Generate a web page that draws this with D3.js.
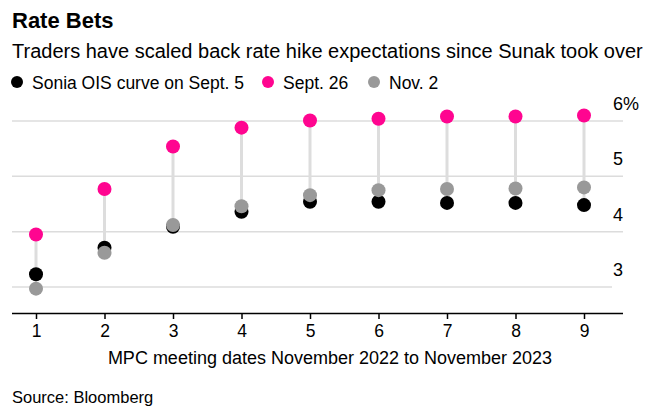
<!DOCTYPE html>
<html>
<head>
<meta charset="utf-8">
<script src="https://cdn.jsdelivr.net/npm/d3@7"></script>
<style>
  body { margin: 0; background: #fff; }
  svg text { font-family: "Liberation Sans", Arial, sans-serif; fill: #000; }
</style>
</head>
<body>
<div id="chart"></div>
<script>
// MPC meetings 1..9
var meetings = [1, 2, 3, 4, 5, 6, 7, 8, 9];
var sept5 = [3.23, 3.71, 4.09, 4.36, 4.54, 4.54, 4.52, 4.52, 4.48];
var sept26 = [3.95, 4.77, 5.54, 5.88, 6.01, 6.04, 6.08, 6.08, 6.10];
var nov2 = [2.97, 3.62, 4.12, 4.46, 4.66, 4.75, 4.77, 4.78, 4.80];
var yTicks = [3, 4, 5, 6];

var series = [
  { name: "Sonia OIS curve on Sept. 5", values: sept5, color: "#000000" },
  { name: "Sept. 26", values: sept26, color: "#ff0590" },
  { name: "Nov. 2", values: nov2, color: "#999999" }
];

var width = 650, height = 414;
var svg = d3.select("#chart").append("svg")
    .attr("width", width)
    .attr("height", height);

// titles
svg.append("text").attr("x", 12).attr("y", 28)
    .style("font-size", "22px").style("font-weight", "bold")
    .text("Rate Bets");
svg.append("text").attr("x", 12).attr("y", 58)
    .style("font-size", "20px")
    .text("Traders have scaled back rate hike expectations since Sunak took over");

// legend
var legendX = [17, 268, 374];
var lg = svg.append("g").selectAll("g").data(series).enter().append("g")
    .attr("transform", function(d, i) { return "translate(" + legendX[i] + ",82)"; });
lg.append("circle").attr("r", 6).attr("fill", function(d) { return d.color; });
lg.append("text").attr("x", 15).attr("y", 6.5)
    .style("font-size", "17.5px")
    .text(function(d) { return d.name; });

// scales
var x = d3.scaleLinear().domain([1, 9]).range([36, 584]);
var y = d3.scaleLinear().domain([3, 6]).range([287, 121]);

// gridlines
svg.append("g").selectAll("line").data(yTicks).enter().append("line")
    .attr("x1", 12)
    .attr("x2", function(d) { return d == 3 ? 612 : 623; })
    .attr("y1", function(d) { return y(d); })
    .attr("y2", function(d) { return y(d); })
    .attr("stroke", "#dcdcdc").attr("stroke-width", 1.5);

// y labels above gridlines
svg.append("g").selectAll("text").data(yTicks).enter().append("text")
    .attr("x", 613)
    .attr("y", function(d) { return y(d) - 11; })
    .style("font-size", "18px")
    .text(function(d) { return d == 6 ? "6%" : d; });

// x axis
var xAxis = svg.append("g")
    .attr("transform", "translate(0,313)")
    .call(d3.axisBottom(x).tickValues(meetings).tickSize(6).tickPadding(6).tickFormat(d3.format("d")));
xAxis.select(".domain").attr("d", "M12,0.5H623").attr("stroke", "#000").attr("stroke-width", 1.5);
xAxis.selectAll(".tick line").attr("stroke", "#000").attr("stroke-width", 1.5);
xAxis.selectAll(".tick text")
    .style("font-size", "17.5px")
    .style("font-family", "'Liberation Sans', Arial, sans-serif")
    .attr("fill", "#000");

svg.append("text").attr("x", 330).attr("y", 364)
    .attr("text-anchor", "middle")
    .style("font-size", "18px")
    .text("MPC meeting dates November 2022 to November 2023");

svg.append("text").attr("x", 12).attr("y", 403)
    .style("font-size", "16.5px")
    .text("Source: Bloomberg");

// connectors
var plot = svg.append("g");
plot.selectAll("line.conn").data(meetings).enter().append("line")
    .attr("class", "conn")
    .attr("x1", function(d) { return x(d); })
    .attr("x2", function(d) { return x(d); })
    .attr("y1", function(d, i) { return y(Math.max(sept5[i], sept26[i], nov2[i])); })
    .attr("y2", function(d, i) { return y(Math.min(sept5[i], sept26[i], nov2[i])); })
    .attr("stroke", "#dddddd").attr("stroke-width", 3);

// dots
series.forEach(function(s) {
  plot.append("g").selectAll("circle").data(s.values).enter().append("circle")
      .attr("cx", function(d, i) { return x(meetings[i]); })
      .attr("cy", function(d) { return y(d); })
      .attr("r", 7)
      .attr("fill", s.color);
});
</script>
</body>
</html>
